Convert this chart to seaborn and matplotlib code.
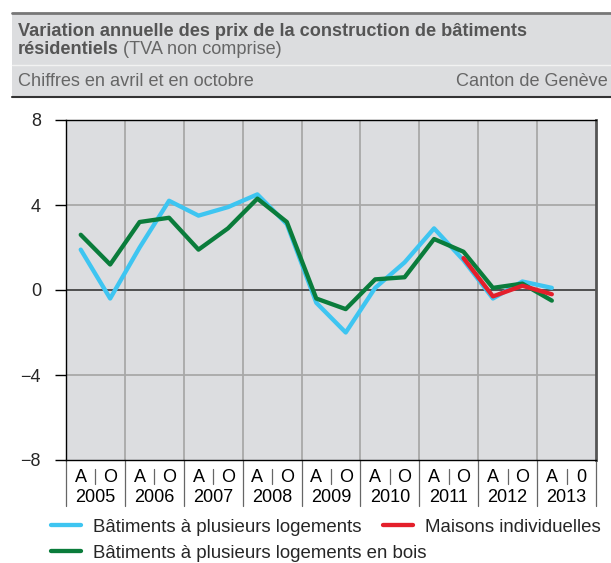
import numpy as np
import pandas as pd
import matplotlib
matplotlib.use("Agg")
import matplotlib.pyplot as plt
import matplotlib.transforms as mtransforms
from matplotlib.patches import Rectangle
import seaborn as sns

# estilo
sns.set_style("white")
plt.rcParams['font.family'] = ['Liberation Sans', 'DejaVu Sans']

# dados (avril / octobre, 2005 - 2013)
years = ['2005', '2006', '2007', '2008', '2009', '2010', '2011', '2012', '2013']
half_labels = ['A', 'O'] * 8 + ['A', '0']
plusieurs = [1.9, -0.4, 2.0, 4.2, 3.5, 3.9, 4.5, 3.1, -0.6, -2.0, 0.1, 1.3, 2.9, 1.4, -0.4, 0.4, 0.1]
bois = [2.6, 1.2, 3.2, 3.4, 1.9, 2.9, 4.3, 3.2, -0.4, -0.9, 0.5, 0.6, 2.4, 1.8, 0.1, 0.3, -0.5]
maisons = [1.5, -0.3, 0.2, -0.2]  # de octobre 2011 a avril 2013

lab_blue = 'Bâtiments à plusieurs logements'
lab_green = 'Bâtiments à plusieurs logements en bois'
lab_red = 'Maisons individuelles'

df_blue = pd.DataFrame({'pos': range(len(plusieurs)), 'val': plusieurs})
df_green = pd.DataFrame({'pos': range(len(bois)), 'val': bois})
df_red = pd.DataFrame({'pos': range(13, 13 + len(maisons)), 'val': maisons})

c_blue, c_green, c_red = '#3ec5f1', '#0a7c3b', '#e41f2b'
txt = '#555555'
fs = 13
fs_head = 13.1
fs_leg = 13.4

W, H = 611, 563
fig = plt.figure(figsize=(W / 100, H / 100), dpi=100)

def fx(px):
    return px / W

def fy(py):
    return 1 - py / H

# ---------- cabecalho ----------
fig.patches.append(Rectangle((fx(12), fy(97)), fx(611) - fx(12), fy(13) - fy(97),
                             transform=fig.transFigure, facecolor='#dcdddf', edgecolor='none'))
fig.add_artist(plt.Line2D([fx(12), 1], [fy(13), fy(13)], color='#777777', lw=2))
fig.add_artist(plt.Line2D([fx(12), 1], [fy(65), fy(65)], color='#f2f2f2', lw=1))
fig.add_artist(plt.Line2D([fx(12), 1], [fy(97), fy(97)], color='#333333', lw=1.5))

fig.text(fx(18), fy(31), 'Variation annuelle des prix de la construction de bâtiments',
         fontsize=fs_head, fontweight='bold', color=txt, va='center')
t1 = fig.text(fx(18), fy(50), 'résidentiels', fontsize=fs_head, fontweight='bold', color=txt, va='center')
fig.canvas.draw()
bb = t1.get_window_extent()
fig.text(bb.x1 / W + fx(4), fy(50), '(TVA non comprise)', fontsize=fs_head, color='#666666', va='center')
fig.text(fx(18), fy(82), 'Chiffres en avril et en octobre', fontsize=fs_head, color='#666666', va='center')
fig.text(fx(608), fy(82), 'Canton de Genève', fontsize=fs_head, color='#666666', va='center', ha='right')

# ---------- grafico ----------
ax = fig.add_axes([fx(66), fy(460), fx(596) - fx(66), fy(120) - fy(460)])
ax.set_facecolor('#dcdde0')

sns.lineplot(data=df_blue, x='pos', y='val', color=c_blue, lw=3.1, ax=ax, label=lab_blue)
sns.lineplot(data=df_green, x='pos', y='val', color=c_green, lw=3.1, ax=ax, label=lab_green)
sns.lineplot(data=df_red, x='pos', y='val', color=c_red, lw=3.1, ax=ax, label=lab_red)

ax.set_xlim(-0.5, 17.5)
ax.set_ylim(-8, 8)

# grade
for k in range(1, len(years)):
    ax.axvline(2 * k - 0.5, color='#a8a8a8', lw=1.3, zorder=0)
for v in [-4, 4]:
    ax.axhline(v, color='#a8a8a8', lw=1.3, zorder=0)
ax.axhline(0, color='#444444', lw=1.3, zorder=1)

ax.set_yticks([-8, -4, 0, 4, 8])
ax.set_yticklabels(['\u22128', '\u22124', '0', '4', '8'], fontsize=fs)
ax.tick_params(axis='y', direction='out', length=8, width=1, color='black', pad=10, left=True)
ax.set_xticks([])
ax.set_xlabel('')
ax.set_ylabel('')

for s in ['left', 'top', 'bottom']:
    ax.spines[s].set_color('black')
    ax.spines[s].set_linewidth(1)
ax.spines['right'].set_color('#555555')
ax.spines['right'].set_linewidth(2)

# eixo x em tabela: A / O e anos
trans = mtransforms.blended_transform_factory(ax.transData, ax.transAxes)
ax_h = fy(120) - fy(460)

def ay(py):
    return (fy(py) - fy(460)) / ax_h

for i, lab in enumerate(half_labels):
    ax.text(i, ay(478), lab, transform=trans, ha='center', va='center', fontsize=fs, color='black')
for k, yr in enumerate(years):
    ax.text(2 * k + 0.5, ay(497), yr, transform=trans, ha='center', va='center', fontsize=fs, color='black')
for k in range(len(years) + 1):
    ax.plot([2 * k - 0.5, 2 * k - 0.5], [ay(460), ay(506)], transform=trans,
            color='#666666', lw=0.9, clip_on=False)
for k in range(len(years)):
    ax.plot([2 * k + 0.5, 2 * k + 0.5], [ay(469), ay(484)], transform=trans,
            color='#666666', lw=0.9, clip_on=False)

# legenda em duas linhas (a segunda linha nao segue as colunas da primeira)
handles, labels = ax.get_legend_handles_labels()
ax.get_legend().remove()
hmap = dict(zip(labels, handles))
leg_kw = dict(loc='center left', frameon=False, fontsize=fs_leg, handlelength=1.6,
              handletextpad=0.65, borderaxespad=0, borderpad=0)
fig.legend([hmap[lab_blue], hmap[lab_red]], [lab_blue, lab_red],
           bbox_to_anchor=(fx(51), fy(527)), ncol=2, columnspacing=1.15, **leg_kw)
fig.legend([hmap[lab_green]], [lab_green],
           bbox_to_anchor=(fx(51), fy(553)), **leg_kw)

fig.savefig('out.png', dpi=100)
